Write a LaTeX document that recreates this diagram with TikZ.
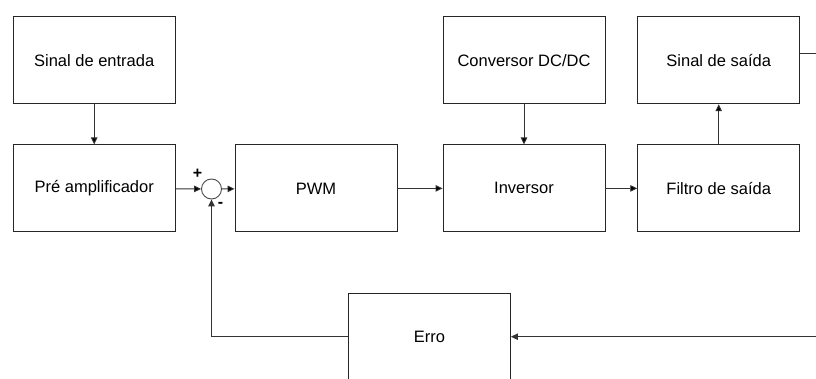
\documentclass[tikz,border=0pt]{standalone}
\usepackage{fontspec}
\setmainfont{Liberation Sans}
\usepackage{tikz}
\usetikzlibrary{arrows.meta}

\tikzset{
  bloco/.style={draw=black!85, line width=0.9pt, minimum width=162pt, minimum height=87pt, inner sep=0pt, font=\fontsize{16.5}{20}\selectfont},
  soma/.style={draw=black!70, line width=0.9pt, circle, minimum size=20pt, inner sep=0pt},
  sinal/.style={font=\fontsize{16}{18}\selectfont\bfseries},
  liga/.style={draw=black!80, line width=0.9pt, -{Triangle[length=7pt,width=6.5pt]}}
}

\begin{document}
\begin{tikzpicture}[x=1pt,y=-1pt]
  \clip (0,0) rectangle (816,379);
  \fill[white] (0,0) rectangle (816,379);
   \draw (94.2,60.3) node[bloco] (entrada) {Sinal de entrada};
   \draw (94.2,188.4) node[bloco] (pre) {Pré amplificador};
    \draw (211.5,189) node[soma] (sum) {};
    \draw (197.5,173.5) node[sinal] (mais) {+};
    \draw (220.5,205) node[sinal] (menos) {-};
   \draw (316,188.4) node[bloco] (pwm) {PWM};
   \draw (524,60.3) node[bloco] (conversor) {Conversor DC/DC};
   \draw (524,188.4) node[bloco] (inversor) {Inversor};
   \draw (718.7,188.4) node[bloco] (filtro) {Filtro de saída};
   \draw (718.7,60.3) node[bloco] (saida) {Sinal de saída};
   \draw (429.5,336.7) node[bloco] (erro) {Erro};
  \coordinate (fora) at (830,53.3);
  \coordinate (volta) at (830,336.7);

       \path[liga] (entrada) edge (pre);
       \path[liga] (pre) edge (sum);
       \path[liga] (sum) edge (pwm);
       \path[liga] (pwm) edge (inversor);
       \path[liga] (conversor) edge (inversor);
       \path[liga] (inversor) edge (filtro);
       \path[liga] (filtro) edge (saida);
       \draw[draw=black!80, line width=0.9pt] (fora -| saida.east) -- (fora);
       \draw[liga] (volta) -- (erro.east);
       \draw[liga] (erro.west) -| (sum.south);
\end{tikzpicture}
\end{document}
